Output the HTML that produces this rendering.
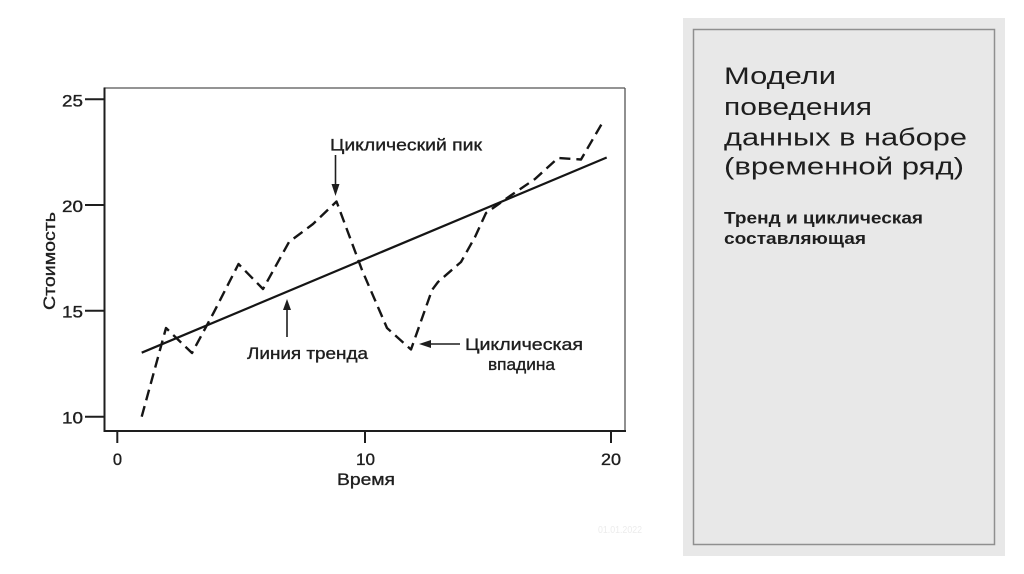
<!DOCTYPE html>
<html>
<head>
<meta charset="utf-8">
<style>
  html,body{margin:0;padding:0;background:#fff;}
  svg{display:block;}
  .t{font-family:"Liberation Sans","DejaVu Sans",sans-serif;fill:#1e1e1e;}
  .c{stroke:#1e1e1e;stroke-width:0.35;}
</style>
</head>
<body>
<svg width="1024" height="574" viewBox="0 0 1024 574" xmlns="http://www.w3.org/2000/svg">
  <rect x="0" y="0" width="1024" height="574" fill="#ffffff"/>

  <!-- Plot frame -->
  <line x1="104" y1="88" x2="625" y2="88" stroke="#555" stroke-width="1.3"/>
  <line x1="625" y1="88" x2="625" y2="431" stroke="#555" stroke-width="1.3"/>
  <line x1="104.5" y1="87.5" x2="104.5" y2="432" stroke="#1e1e1e" stroke-width="2"/>
  <line x1="103.5" y1="431" x2="626" y2="431" stroke="#1e1e1e" stroke-width="2"/>

  <!-- Y ticks -->
  <g stroke="#1e1e1e" stroke-width="2">
    <line x1="85" y1="99.3" x2="104" y2="99.3"/>
    <line x1="85" y1="205" x2="104" y2="205"/>
    <line x1="85" y1="310.7" x2="104" y2="310.7"/>
    <line x1="85" y1="416.7" x2="104" y2="416.7"/>
  </g>
  <!-- X ticks -->
  <g stroke="#1e1e1e" stroke-width="2">
    <line x1="117.3" y1="431" x2="117.3" y2="443"/>
    <line x1="365" y1="431" x2="365" y2="443"/>
    <line x1="611" y1="431" x2="611" y2="443"/>
  </g>

  <!-- Y tick labels -->
  <g class="t c" font-size="16.5" text-anchor="end">
    <text x="83" y="106.5" textLength="21" lengthAdjust="spacingAndGlyphs">25</text>
    <text x="83" y="212" textLength="21" lengthAdjust="spacingAndGlyphs">20</text>
    <text x="83" y="317.5" textLength="21" lengthAdjust="spacingAndGlyphs">15</text>
    <text x="83" y="423.5" textLength="21" lengthAdjust="spacingAndGlyphs">10</text>
  </g>
  <!-- X tick labels -->
  <g class="t c" font-size="16.5" text-anchor="middle">
    <text x="117.5" y="465">0</text>
    <text x="365.5" y="465" textLength="19" lengthAdjust="spacingAndGlyphs">10</text>
    <text x="611" y="465" textLength="20" lengthAdjust="spacingAndGlyphs">20</text>
  </g>

  <!-- Axis titles -->
  <text class="t c" x="366" y="485" font-size="16.5" text-anchor="middle" textLength="58" lengthAdjust="spacingAndGlyphs">Время</text>
  <text class="t c" transform="translate(55,261) rotate(-90)" x="0" y="0" font-size="16.5" text-anchor="middle" textLength="98" lengthAdjust="spacingAndGlyphs">Стоимость</text>

  <!-- Trend line -->
  <line x1="141.7" y1="352.7" x2="606.7" y2="157.5" stroke="#151515" stroke-width="2.2"/>

  <!-- Dashed data series -->
  <polyline fill="none" stroke="#151515" stroke-width="2.4" stroke-dasharray="11 6" stroke-linejoin="round"
    points="141.7,416.7 166,328 192,353 214,312 238.5,264 263,289 289,242 313,224 336.5,201.5 362,270 387,328 411,349.5 432,290 438,282 461,262 475,237 486,213 510,196 535,179 558,158 581,159.5 604,120"/>

  <!-- Annotation: cyclic peak -->
  <text class="t c" x="330" y="150.7" font-size="17" textLength="152" lengthAdjust="spacingAndGlyphs">Циклический пик</text>
  <line x1="335.5" y1="155" x2="335.5" y2="188" stroke="#1e1e1e" stroke-width="1.6"/>
  <polygon points="331.5,184 339.5,184 335.5,196" fill="#1e1e1e"/>

  <!-- Annotation: trend line -->
  <text class="t c" x="247" y="359" font-size="17" textLength="121" lengthAdjust="spacingAndGlyphs">Линия тренда</text>
  <line x1="287" y1="337" x2="287" y2="306" stroke="#1e1e1e" stroke-width="1.6"/>
  <polygon points="283,310 291,310 287,299" fill="#1e1e1e"/>

  <!-- Annotation: cyclic trough -->
  <text class="t c" x="465" y="350" font-size="17" textLength="118" lengthAdjust="spacingAndGlyphs">Циклическая</text>
  <text class="t c" x="488" y="370" font-size="17" textLength="67" lengthAdjust="spacingAndGlyphs">впадина</text>
  <line x1="460" y1="344" x2="427" y2="344" stroke="#1e1e1e" stroke-width="1.6"/>
  <polygon points="419,344 431,340 431,348" fill="#1e1e1e"/>

  <!-- faint date -->
  <text x="598" y="533" font-family="Liberation Sans, sans-serif" font-size="10" fill="#ececec" textLength="44" lengthAdjust="spacingAndGlyphs">01.01.2022</text>

  <!-- Right panel -->
  <rect x="683" y="18" width="322" height="538" fill="#e8e8e8"/>
  <rect x="693.5" y="29.5" width="301" height="515" fill="#e8e8e8" stroke="#8f8f8f" stroke-width="1.5"/>

  <g class="t" font-size="24" fill="#1a1a1a">
    <text x="724" y="84" textLength="112" lengthAdjust="spacingAndGlyphs">Модели</text>
    <text x="724" y="115" textLength="148" lengthAdjust="spacingAndGlyphs">поведения</text>
    <text x="724" y="145.5" textLength="243" lengthAdjust="spacingAndGlyphs">данных в наборе</text>
    <text x="724" y="174.5" textLength="240" lengthAdjust="spacingAndGlyphs">(временной ряд)</text>
  </g>
  <g class="t" font-size="17" font-weight="bold" fill="#111">
    <text x="724" y="223.3" textLength="199" lengthAdjust="spacingAndGlyphs">Тренд и циклическая</text>
    <text x="724" y="244" textLength="142" lengthAdjust="spacingAndGlyphs">составляющая</text>
  </g>
</svg>
</body>
</html>
